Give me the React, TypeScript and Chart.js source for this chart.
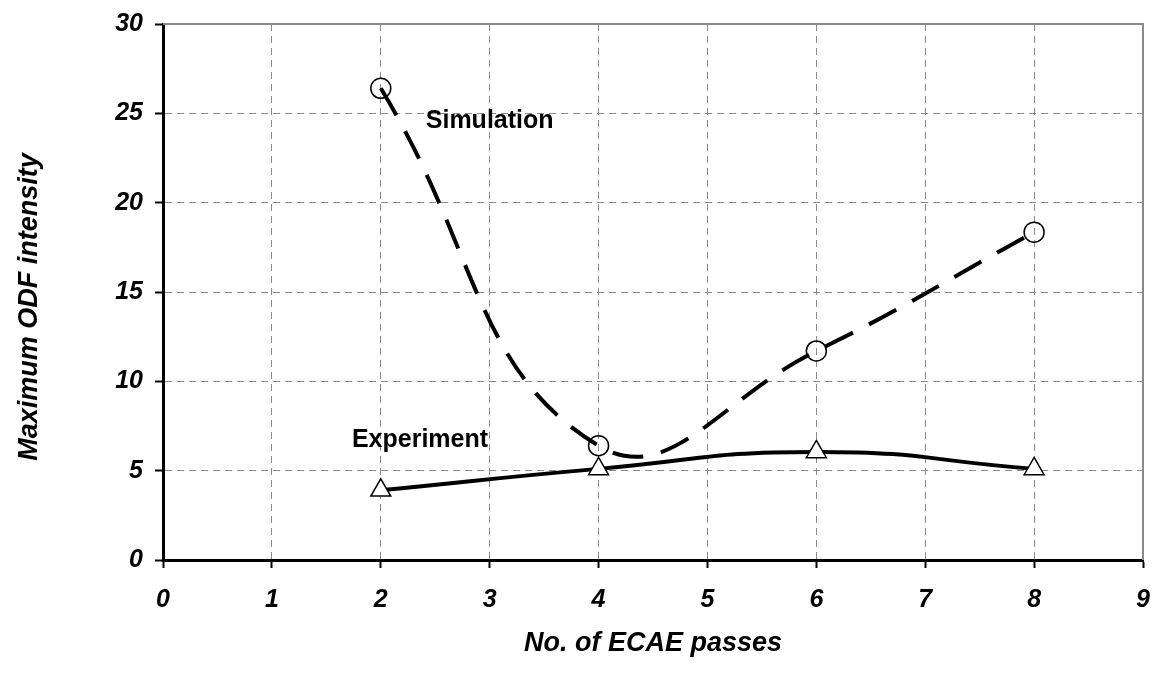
import React, { useEffect, useRef } from "react";
import { Chart, registerables } from "chart.js";

Chart.register(...registerables);

const passes = [2, 4, 6, 8];
const simulation = [26.4, 6.4, 11.7, 18.35];
const experiment = [3.9, 5.1, 6.05, 5.1];
const xTicks = [0, 1, 2, 3, 4, 5, 6, 7, 8, 9];
const yTicks = [0, 5, 10, 15, 20, 25, 30];
const seriesNames = ["Simulation", "Experiment"];
const xTitle = "No. of ECAE passes";
const yTitle = "Maximum ODF intensity";

const FONT = "'Liberation Sans', Arial, sans-serif";
const labelSpots = [
  { text: seriesNames[0], x: 3.0, y: 24.57 },
  { text: seriesNames[1], x: 2.36, y: 6.7 },
];

const framePlugin = {
  id: "frame",
  beforeDatasetsDraw(chart: any) {
    const { ctx, chartArea: a } = chart;
    ctx.save();
    ctx.strokeStyle = "#8a8a8a";
    ctx.lineWidth = 2;
    ctx.setLineDash([]);
    ctx.beginPath();
    ctx.moveTo(a.left, a.top);
    ctx.lineTo(a.right, a.top);
    ctx.lineTo(a.right, a.bottom);
    ctx.stroke();
    ctx.restore();
  },
  afterDatasetsDraw(chart: any) {
    const { ctx, scales, chartArea: a } = chart;
    ctx.save();
    ctx.fillStyle = "#000";
    ctx.font = `bold 25px ${FONT}`;
    ctx.textAlign = "center";
    ctx.textBaseline = "middle";
    for (const s of labelSpots) {
      ctx.fillText(s.text, scales.x.getPixelForValue(s.x), scales.y.getPixelForValue(s.y));
    }
    ctx.font = `italic bold 27px ${FONT}`;
    ctx.fillText(xTitle, (a.left + a.right) / 2, 644);
    ctx.translate(30, 307);
    ctx.rotate(-Math.PI / 2);
    ctx.fillText(yTitle, 0, 0);
    ctx.restore();
  },
};

export default function App() {
  const ref = useRef<HTMLCanvasElement>(null);
  useEffect(() => {
    const tickFont = { family: FONT, size: 25, weight: "bold" as const, style: "italic" as const };
    const chart = new Chart(ref.current!, {
      type: "line",
      data: {
        datasets: [
          {
            label: seriesNames[0],
            data: passes.map((x, i) => ({ x, y: simulation[i] })),
            borderColor: "#000",
            borderWidth: 4,
            borderDash: [31, 18],
            tension: 0.45,
            pointStyle: "circle",
            pointRadius: 10,
            pointBorderWidth: 1.5,
            pointBorderColor: "#000",
            pointBackgroundColor: "rgba(255,255,255,0)",
            fill: false,
          },
          {
            label: seriesNames[1],
            data: passes.map((x, i) => ({ x, y: experiment[i] })),
            borderColor: "#000",
            borderWidth: 4,
            tension: 0.5,
            pointStyle: "triangle",
            pointRadius: 11.5,
            pointBorderWidth: 1.5,
            pointBorderColor: "#000",
            pointBackgroundColor: "#fff",
            fill: false,
          },
        ],
      },
      options: {
        responsive: false,
        animation: false,
        layout: { padding: { top: 24, right: 2, left: 0, bottom: 0 } },
        plugins: { legend: { display: false }, tooltip: { enabled: false } },
        scales: {
          x: {
            type: "linear",
            min: 0,
            max: 9,
            afterBuildTicks: (s: any) => {
              s.ticks = xTicks.map((v) => ({ value: v }));
            },
            afterFit: (s: any) => {
              s.height = 122;
              s.paddingLeft = 0;
              s.paddingRight = 0;
            },
            ticks: { font: tickFont, color: "#000", padding: 17, maxRotation: 0 },
            grid: {
              color: "#8a8a8a",
              lineWidth: 1,
              tickColor: "#000",
              tickWidth: 2,
              tickLength: 8,
              tickBorderDash: [],
            },
            border: { color: "#000", width: 3, dash: [7, 5] },
          },
          y: {
            type: "linear",
            min: 0,
            max: 30,
            afterBuildTicks: (s: any) => {
              s.ticks = yTicks.map((v) => ({ value: v }));
            },
            afterFit: (s: any) => {
              s.width = 163;
              s.paddingTop = 0;
              s.paddingBottom = 0;
            },
            ticks: { font: tickFont, color: "#000", padding: 12 },
            grid: {
              color: "#8a8a8a",
              lineWidth: 1,
              tickColor: "#000",
              tickWidth: 2,
              tickLength: 8,
              tickBorderDash: [],
            },
            border: { color: "#000", width: 3, dash: [7, 5] },
          },
        },
      },
      plugins: [framePlugin],
    });
    return () => chart.destroy();
  }, []);
  return (
    <div style={{ position: "fixed", left: 0, top: 0, width: 1156, height: 682, background: "#fff" }}>
      <canvas ref={ref} width={1156} height={682} />
    </div>
  );
}
